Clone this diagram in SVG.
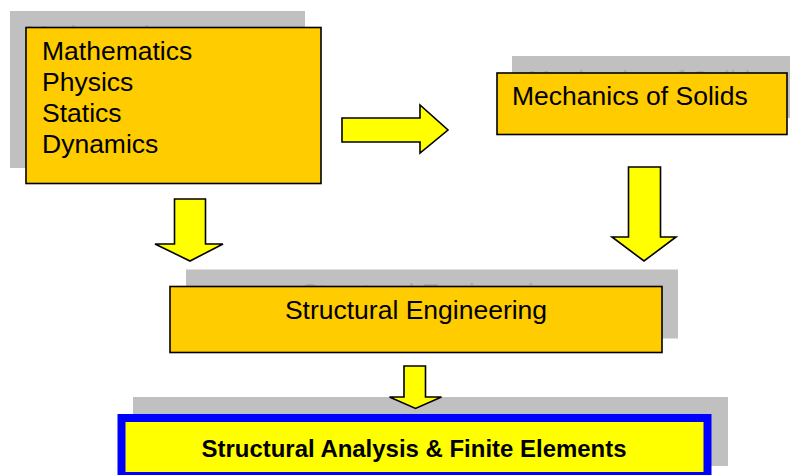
<svg xmlns="http://www.w3.org/2000/svg" width="790" height="475" viewBox="0 0 790 475">
<style>
.shadow{fill:#c0c0c0;}
.box{fill:#ffcc00;stroke:#000;stroke-width:1.6;}
.t{font-family:"Liberation Sans",Arial,sans-serif;font-size:26.5px;fill:#000;}
.g{font-family:"Liberation Sans",Arial,sans-serif;font-size:26.5px;fill:#aaaaaa;}
.arrow{fill:#ffff00;stroke:#000;stroke-width:1.6;stroke-linejoin:miter;}
.final{fill:#ffff00;stroke:#0000ff;stroke-width:8;}
.tb{font-family:"Liberation Sans",Arial,sans-serif;font-size:24.5px;font-weight:bold;fill:#000;}
</style>
<rect width="790" height="475" fill="#ffffff"/>
<g id="basics">
<rect class="shadow" x="10" y="11" width="295" height="157"/>
<text class="g" x="26" y="44">Mathematics</text>
<rect class="box" x="26" y="27.5" width="295" height="156"/>
<text class="t" x="42" y="60">Mathematics</text>
<text class="t" x="42" y="91">Physics</text>
<text class="t" x="42" y="122">Statics</text>
<text class="t" x="42" y="152.5">Dynamics</text>
</g>
<g id="mechanics">
<rect class="shadow" x="512" y="56" width="290" height="62"/>
<text class="g" x="528" y="89">Mechanics of Solids</text>
<rect class="box" x="497" y="73" width="290" height="61.5"/>
<text class="t" x="512" y="105">Mechanics of Solids</text>
</g>
<g id="structural">
<rect class="shadow" x="186" y="269.5" width="492" height="69"/>
<text class="g" x="432" y="302" text-anchor="middle">Structural Engineering</text>
<rect class="box" x="170" y="286.5" width="492" height="66"/>
<text class="t" x="416" y="319" text-anchor="middle">Structural Engineering</text>
</g>
<g id="analysis">
<rect class="shadow" x="133" y="397" width="595" height="69"/>
<rect class="final" x="121.5" y="418" width="586" height="58"/>
<text class="tb" x="414" y="456.5" text-anchor="middle" textLength="425" lengthAdjust="spacingAndGlyphs">Structural Analysis &amp; Finite Elements</text>
</g>
<g id="connectors">
<polygon class="arrow" points="342,118 420,118 420,105 448,130 420,153 420,142 342,142"/>
<polygon class="arrow" points="174.5,199 205.5,199 205.5,244 223,244 190,261 155,244 174.5,244"/>
<polygon class="arrow" points="628.5,167 660.5,167 660.5,237 676,237 644,261 612,237 628.5,237"/>
<polygon class="arrow" points="404,366 425.5,366 425.5,397 441.5,397 415.5,408.5 389.5,397 404,397"/>
</g>
</svg>
